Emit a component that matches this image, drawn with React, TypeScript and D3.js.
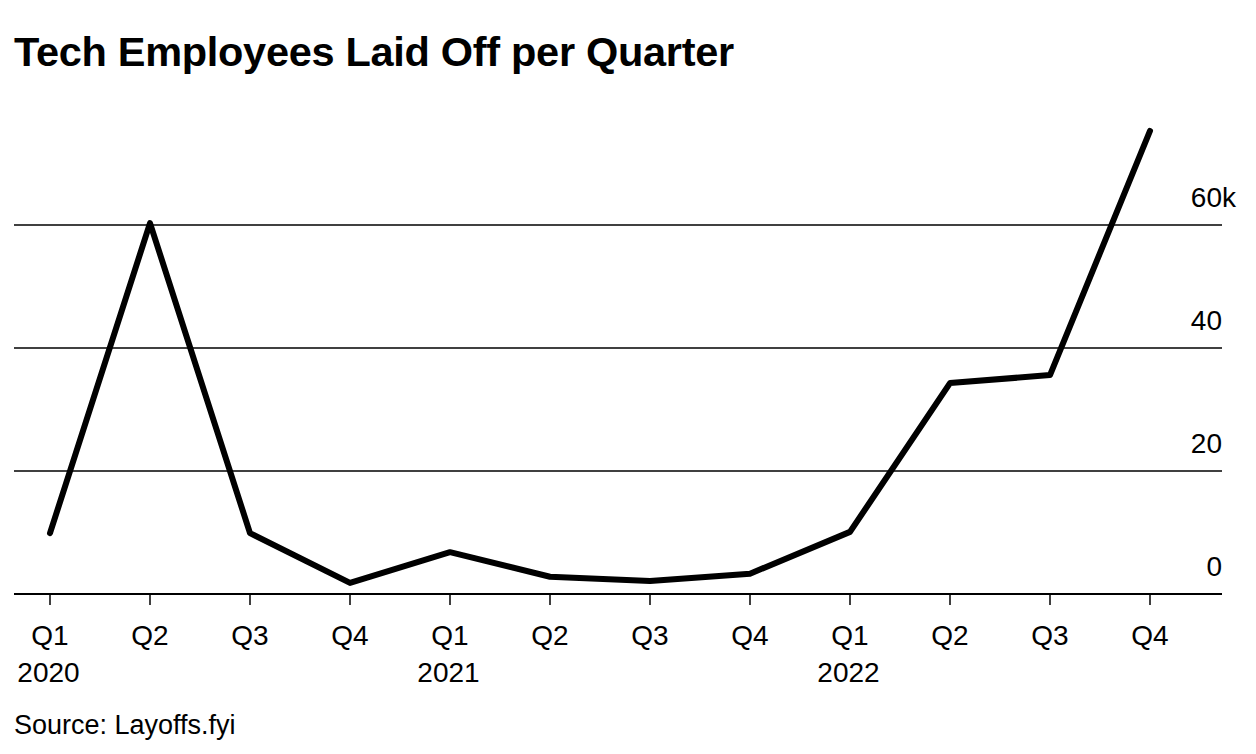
import React from "react";
import * as d3 from "d3";

const quarters = ["Q1", "Q2", "Q3", "Q4", "Q1", "Q2", "Q3", "Q4", "Q1", "Q2", "Q3", "Q4"];
const years = ["2020", "", "", "", "2021", "", "", "", "2022", "", "", ""];
const layoffs = [9.9, 60.3, 9.9, 1.8, 6.8, 2.8, 2.1, 3.3, 10.1, 34.3, 35.6, 75.3];
const yTicks = [0, 20, 40, 60];

const W = 1256;
const H = 754;
const FONT = "'Liberation Sans', Arial, Helvetica, sans-serif";

export default function App() {
  const x = d3.scaleLinear().domain([0, quarters.length - 1]).range([50, 1150]);
  const y = d3.scaleLinear().domain([0, 60]).range([594, 225]);
  const line = d3
    .line<number>()
    .x((_, i) => x(i))
    .y((d) => y(d));

  return (
    <svg
      width={W}
      height={H}
      style={{ position: "absolute", left: 0, top: 0, background: "#fff" }}
      fontFamily={FONT}
    >
      <text x={14} y={66} fontSize={41.5} fontWeight="bold" letterSpacing={-0.3} fill="#000">
        Tech Employees Laid Off per Quarter
      </text>

      {yTicks.map((t) => (
        <g key={t}>
          <line
            x1={14}
            x2={1222}
            y1={y(t)}
            y2={y(t)}
            stroke="#000"
            strokeWidth={t === 0 ? 2 : 1.5}
          />
          <text x={1222} y={y(t) - 18} fontSize={28} fill="#000" textAnchor="end">
            {t}
          </text>
          {t === 60 ? (
            <text x={1222} y={y(t) - 18} fontSize={28} fill="#000" textAnchor="start">
              k
            </text>
          ) : null}
        </g>
      ))}

      {quarters.map((q, i) => (
        <g key={i}>
          <line x1={x(i)} x2={x(i)} y1={595} y2={605} stroke="#000" strokeWidth={1.5} />
          <text x={x(i)} y={645} fontSize={28} textAnchor="middle" fill="#000">
            {q}
          </text>
          {years[i] ? (
            <text x={x(i) - 1.5} y={682} fontSize={28} textAnchor="middle" fill="#000">
              {years[i]}
            </text>
          ) : null}
        </g>
      ))}

      <path
        d={line(layoffs) ?? ""}
        fill="none"
        stroke="#000"
        strokeWidth={6}
        strokeLinecap="round"
        strokeLinejoin="round"
      />

      <text x={14} y={734} fontSize={27} fill="#000">
        Source: Layoffs.fyi
      </text>
    </svg>
  );
}
